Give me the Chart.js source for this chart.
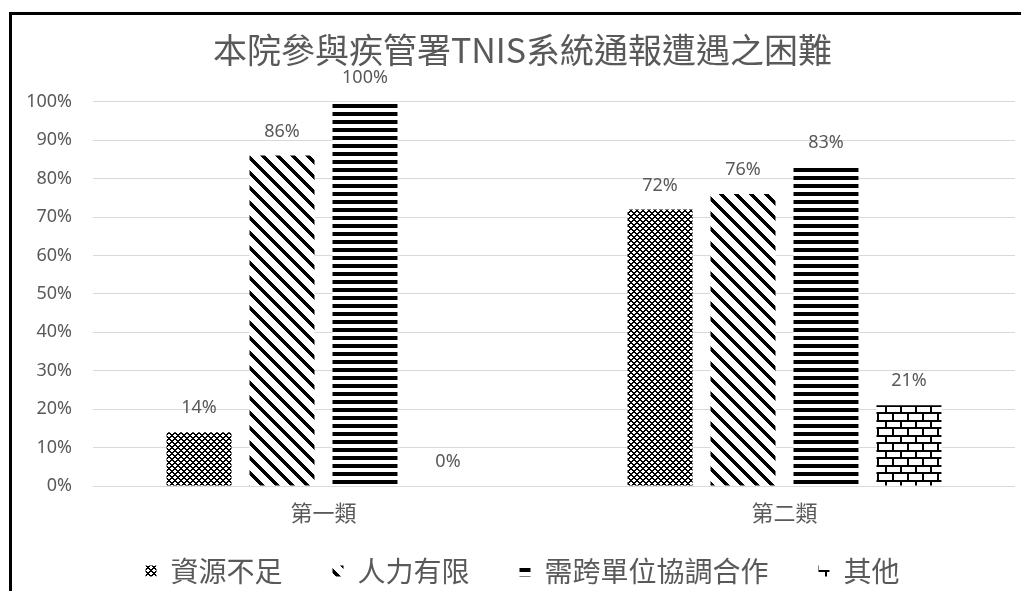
<!DOCTYPE html>
<html><head><meta charset="utf-8">
<script src="https://cdn.jsdelivr.net/npm/chart.js@4.4.0/dist/chart.umd.min.js"></script>
<style>
html,body{margin:0;padding:0;background:#fff;width:1021px;height:591px;overflow:hidden;}
#frame{position:absolute;left:9px;top:12px;width:1100px;height:700px;border-left:3px solid #000;border-top:3px solid #000;}
#wrap{position:absolute;left:0;top:0;width:1021px;height:591px;}
</style></head><body>
<div id="frame"></div>
<div id="wrap"><canvas id="c"></canvas></div>
<script>
const titleText = '本院參與疾管署TNIS系統通報遭遇之困難';
const categories = ['第一類', '第二類'];
const seriesNames = ['資源不足', '人力有限', '需跨單位協調合作', '其他'];
const shortage = [14, 72];
const manpower = [86, 76];
const crossUnit = [100, 83];
const other = [0, 21];
const yMin = 0, yMax = 100, yStep = 10;

const CJK = '"Noto Sans CJK TC", "Noto Sans", sans-serif';
const NUM = '"Noto Sans", "Liberation Sans", sans-serif';
const GRAY = '#595959';

const canvas = document.getElementById('c');
const mainCtx = canvas.getContext('2d');

function makePattern(w, h, fn) {
  const t = document.createElement('canvas');
  t.width = w; t.height = h;
  const g = t.getContext('2d');
  const img = g.createImageData(w, h);
  for (let y = 0; y < h; y++) {
    for (let x = 0; x < w; x++) {
      const i = (y * w + x) * 4;
      const v = fn(x, y) ? 0 : 255;
      img.data[i] = v; img.data[i + 1] = v; img.data[i + 2] = v; img.data[i + 3] = 255;
    }
  }
  g.putImageData(img, 0, 0);
  return mainCtx.createPattern(t, 'repeat');
}

const patDiamond = makePattern(6, 6, (x, y) => ((x + y) % 6) < 2 || ((x - y + 12) % 6) < 2);
const patDiag = makePattern(15, 15, (x, y) => ((x - y + 30) % 15) < 5);
const patHoriz = makePattern(8, 8, (x, y) => y < 4);
const patBrick = makePattern(15, 15, (x, y) => {
  if (y < 2 || (y >= 7 && y < 9)) return true;
  if (y < 7) return x < 2;
  return x >= 7 && x < 9;
});

const patterns = [patDiamond, patDiag, patHoriz, patBrick];
const seriesData = [shortage, manpower, crossUnit, other];

const valueLabels = {
  id: 'valueLabels',
  beforeDraw(chart) {
    // let tick labels overflow their (tight) scale boxes instead of being clipped
    chart.scales.x._computeLabelArea = () => undefined;
    chart.scales.y._computeLabelArea = () => undefined;
  },
  afterDatasetsDraw(chart) {
    const ctx = chart.ctx;
    ctx.save();
    ctx.font = '18px ' + NUM;
    ctx.fillStyle = GRAY;
    ctx.textAlign = 'center';
    ctx.textBaseline = 'middle';
    chart.data.datasets.forEach((ds, i) => {
      const meta = chart.getDatasetMeta(i);
      meta.data.forEach((el, j) => {
        ctx.fillText(ds.data[j] + '%', el.x, el.y - 24);
      });
    });
    ctx.restore();
  }
};

const legendFont = 28, legendPad = 50, padBottom = -4, padLeft = 30;
const legendTop = 591 - padBottom - (legendFont + legendPad + 10);

new Chart(canvas, {
  type: 'bar',
  data: {
    labels: categories,
    datasets: seriesNames.map((name, i) => ({
      label: name,
      data: seriesData[i],
      backgroundColor: patterns[i],
      borderWidth: 0,
      categoryPercentage: 0.72,
      barPercentage: 0.783
    }))
  },
  options: {
    responsive: true,
    maintainAspectRatio: false,
    animation: false,
    layout: { padding: { top: 14, left: padLeft, right: 6, bottom: padBottom } },
    plugins: {
      title: {
        display: true, text: titleText, color: GRAY,
        font: { family: CJK, size: 34, weight: 'normal' },
        padding: { top: 16, bottom: 31 }
      },
      legend: {
        position: 'bottom',
        labels: {
          color: GRAY, font: { family: CJK, size: legendFont },
          boxWidth: 11, boxHeight: 11, padding: legendPad
        }
      },
      tooltip: { enabled: false }
    },
    scales: {
      x: {
        grid: { display: false },
        border: { display: false },
        ticks: { color: GRAY, font: { family: CJK, size: 22 }, padding: 5 },
        afterFit(s) { s.height = legendTop - 486; }
      },
      y: {
        min: yMin, max: yMax,
        ticks: {
          stepSize: yStep, color: GRAY, padding: 21,
          font: { family: NUM, size: 18 },
          callback: v => v + '%'
        },
        grid: { color: '#d9d9d9', drawTicks: false },
        border: { display: false },
        afterFit(s) { s.width = 93 - padLeft; }
      }
    }
  },
  plugins: [valueLabels]
});
</script>
</body></html>
